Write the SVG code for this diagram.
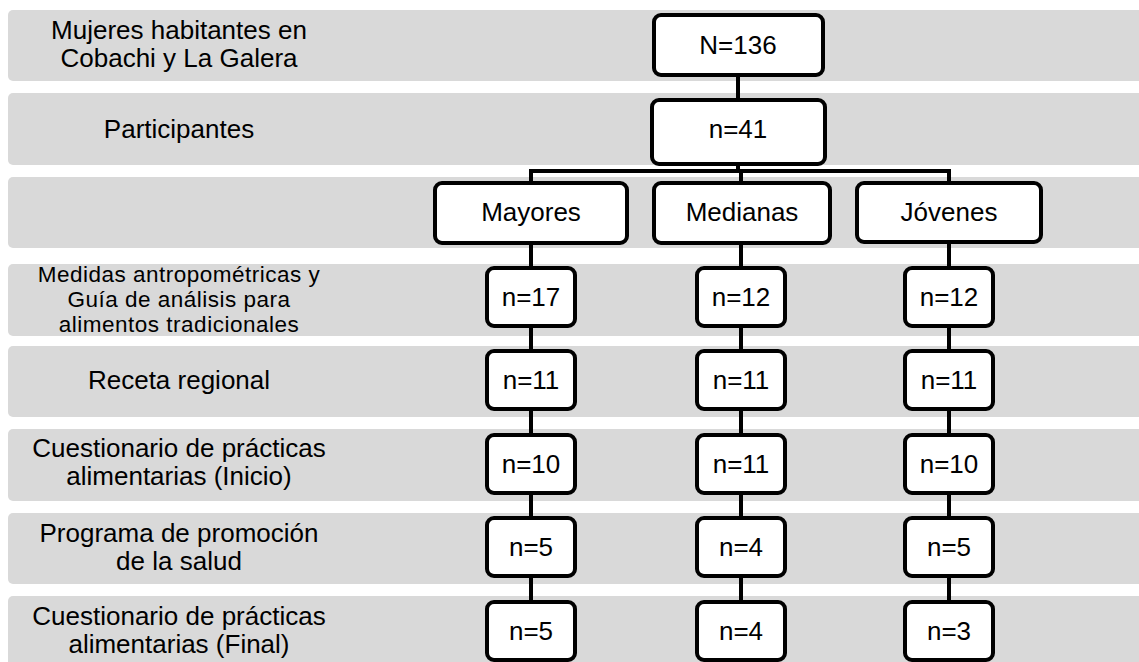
<svg xmlns="http://www.w3.org/2000/svg" width="1139" height="662" viewBox="0 0 1139 662">
<style>
.band{fill:#d9d9d9}
.lbl{font-family:"Liberation Sans",Arial,sans-serif;font-size:26px;fill:#000;text-anchor:middle}
.sm{font-size:22.5px;letter-spacing:0.5px}
.box{fill:#fff;stroke:#000;stroke-width:4}
.nt{font-family:"Liberation Sans",Arial,sans-serif;font-size:26px;fill:#000;text-anchor:middle}
.con{fill:none;stroke:#000;stroke-width:4;stroke-linejoin:miter}
</style>
<rect width="1139" height="662" fill="#fff"/>
<g id="bands">
<rect class="band" x="8" y="10" width="1140" height="71" rx="5"/>
<rect class="band" x="8" y="93" width="1140" height="72" rx="5"/>
<rect class="band" x="8" y="177" width="1140" height="71" rx="5"/>
<rect class="band" x="8" y="264" width="1140" height="72" rx="5"/>
<rect class="band" x="8" y="346" width="1140" height="71" rx="5"/>
<rect class="band" x="8" y="429" width="1140" height="72" rx="5"/>
<rect class="band" x="8" y="513" width="1140" height="71" rx="5"/>
<rect class="band" x="8" y="596" width="1140" height="72" rx="5"/>
</g>
<g id="labels">
<text class="lbl" x="179" y="39">Mujeres habitantes en</text>
<text class="lbl" x="179" y="67">Cobachi y La Galera</text>
<text class="lbl" x="179" y="138">Participantes</text>
<text class="lbl sm" x="179" y="282">Medidas antropométricas y</text>
<text class="lbl sm" x="179" y="307">Guía de análisis para</text>
<text class="lbl sm" x="179" y="332">alimentos tradicionales</text>
<text class="lbl" x="179" y="389">Receta regional</text>
<text class="lbl" x="179" y="457">Cuestionario de prácticas</text>
<text class="lbl" x="179" y="485">alimentarias (Inicio)</text>
<text class="lbl" x="179" y="542">Programa de promoción</text>
<text class="lbl" x="179" y="570">de la salud</text>
<text class="lbl" x="179" y="625">Cuestionario de prácticas</text>
<text class="lbl" x="179" y="653">alimentarias (Final)</text>
</g>
<g id="connectors">
<line class="con" x1="738" y1="75" x2="738" y2="100"/>
<line class="con" x1="738" y1="164" x2="738" y2="171"/>
<path class="con" d="M531 183 V171 H949 V183"/>
<line class="con" x1="741" y1="171" x2="741" y2="183"/>
<line class="con" x1="531" y1="243" x2="531" y2="268"/>
<line class="con" x1="741" y1="243" x2="741" y2="268"/>
<line class="con" x1="949" y1="242" x2="949" y2="268"/>
<path class="con" d="M531 326 V351 M531 409 V435 M531 493 V518 M531 576 V602"/>
<path class="con" d="M741 326 V351 M741 409 V435 M741 493 V518 M741 576 V602"/>
<path class="con" d="M949 326 V351 M949 409 V435 M949 493 V518 M949 576 V602"/>
</g>
<g id="n-total"><rect class="box" x="654" y="15" width="169" height="60" rx="7"/><text class="nt" x="738" y="54">N=136</text></g>
<g id="n-participantes"><rect class="box" x="652" y="100" width="173" height="64" rx="7"/><text class="nt" x="738" y="138">n=41</text></g>
<g id="n-mayores"><rect class="box" x="435" y="183" width="192" height="60" rx="7"/><text class="nt" x="531" y="221">Mayores</text></g>
<g id="n-medianas"><rect class="box" x="654" y="183" width="176" height="60" rx="7"/><text class="nt" x="742" y="221">Medianas</text></g>
<g id="n-jovenes"><rect class="box" x="857" y="183" width="184" height="59" rx="7"/><text class="nt" x="949" y="221">Jóvenes</text></g>
<g id="m1"><rect class="box" x="487" y="268" width="88" height="58" rx="7"/><text class="nt" x="531" y="306">n=17</text></g>
<g id="d1"><rect class="box" x="697" y="268" width="88" height="58" rx="7"/><text class="nt" x="741" y="306">n=12</text></g>
<g id="j1"><rect class="box" x="905" y="268" width="88" height="58" rx="7"/><text class="nt" x="949" y="306">n=12</text></g>
<g id="m2"><rect class="box" x="487" y="351" width="88" height="58" rx="7"/><text class="nt" x="531" y="389">n=11</text></g>
<g id="d2"><rect class="box" x="697" y="351" width="88" height="58" rx="7"/><text class="nt" x="741" y="389">n=11</text></g>
<g id="j2"><rect class="box" x="905" y="351" width="88" height="58" rx="7"/><text class="nt" x="949" y="389">n=11</text></g>
<g id="m3"><rect class="box" x="487" y="435" width="88" height="58" rx="7"/><text class="nt" x="531" y="473">n=10</text></g>
<g id="d3"><rect class="box" x="697" y="435" width="88" height="58" rx="7"/><text class="nt" x="741" y="473">n=11</text></g>
<g id="j3"><rect class="box" x="905" y="435" width="88" height="58" rx="7"/><text class="nt" x="949" y="473">n=10</text></g>
<g id="m4"><rect class="box" x="487" y="518" width="88" height="58" rx="7"/><text class="nt" x="531" y="556">n=5</text></g>
<g id="d4"><rect class="box" x="697" y="518" width="88" height="58" rx="7"/><text class="nt" x="741" y="556">n=4</text></g>
<g id="j4"><rect class="box" x="905" y="518" width="88" height="58" rx="7"/><text class="nt" x="949" y="556">n=5</text></g>
<g id="m5"><rect class="box" x="487" y="602" width="88" height="58" rx="7"/><text class="nt" x="531" y="640">n=5</text></g>
<g id="d5"><rect class="box" x="697" y="602" width="88" height="58" rx="7"/><text class="nt" x="741" y="640">n=4</text></g>
<g id="j5"><rect class="box" x="905" y="602" width="88" height="58" rx="7"/><text class="nt" x="949" y="640">n=3</text></g>
</svg>
